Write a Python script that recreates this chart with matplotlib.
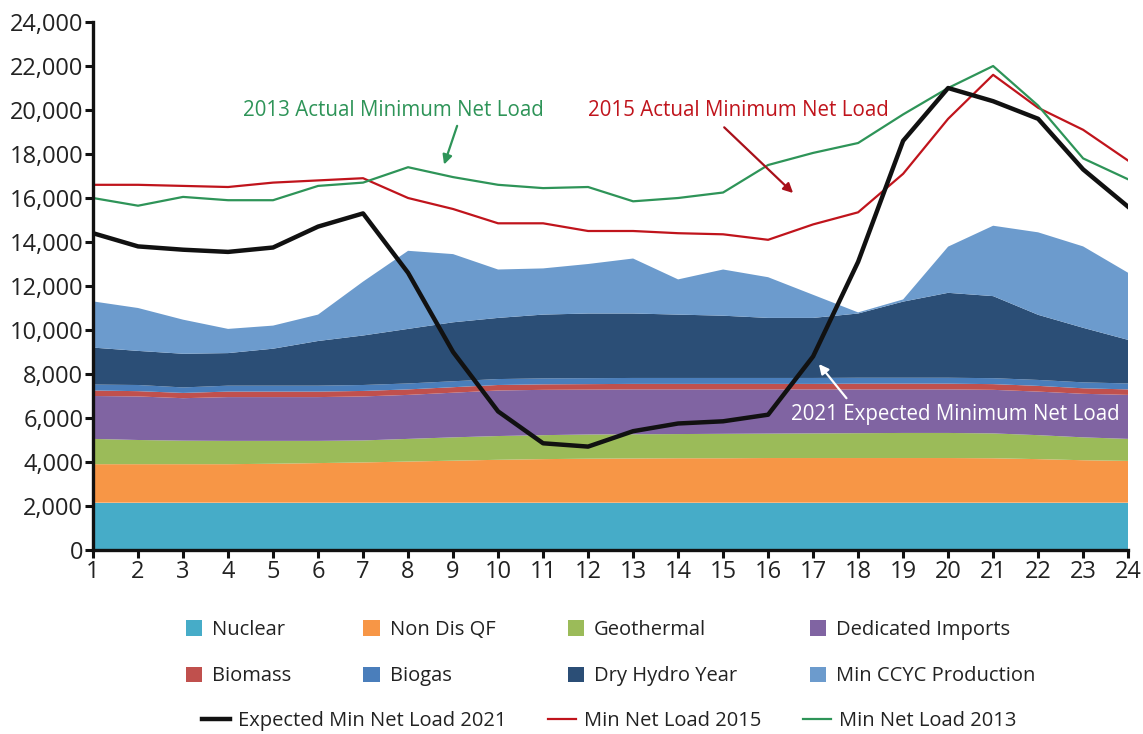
import numpy as np
import matplotlib
matplotlib.use("Agg")
import matplotlib.pyplot as plt
from matplotlib.patches import Patch
from matplotlib.lines import Line2D

plt.rcParams['font.family'] = ['Open Sans', 'DejaVu Sans']

# Hour of day
hours = list(range(1, 25))

# Stacked resources (MW, layer thickness)
nuclear = [2150] * 24
non_dis_qf = [1750, 1750, 1750, 1750, 1770, 1800, 1830, 1870, 1910, 1950, 1980, 2000,
              2010, 2020, 2020, 2030, 2030, 2030, 2030, 2030, 2020, 1980, 1930, 1900]
geothermal = [1150, 1100, 1070, 1060, 1040, 1010, 1000, 1030, 1060, 1080, 1090, 1100,
              1100, 1100, 1110, 1110, 1120, 1130, 1140, 1140, 1130, 1090, 1040, 1000]
dedicated_imports = [1950, 1980, 1930, 1990, 1990, 1990, 2000, 2000, 2030, 2070, 2060, 2040,
                     2040, 2030, 2020, 2010, 2000, 1990, 1980, 1980, 1980, 1980, 1980, 2000]
biomass = [250, 240, 240, 250, 250, 250, 250, 250, 250, 250, 250, 250,
           250, 250, 250, 250, 250, 260, 260, 260, 260, 260, 250, 250]
biogas = [270, 280, 250, 270, 270, 270, 270, 270, 270, 270, 270, 270,
          270, 270, 270, 270, 270, 270, 270, 270, 270, 270, 270, 270]
dry_hydro = [1680, 1550, 1530, 1480, 1680, 2030, 2250, 2480, 2680, 2780, 2900, 2940,
             2930, 2880, 2830, 2730, 2730, 2920, 3460, 3860, 3730, 2960, 2480, 1980]
min_ccyc = [2100, 1950, 1550, 1100, 1050, 1200, 2450, 3550, 3100, 2200, 2100, 2250,
            2500, 1600, 2100, 1850, 1050, 50, 100, 2100, 3200, 3750, 3700, 3050]

# Minimum net load lines (MW)
net_load_2021 = [14400, 13800, 13650, 13550, 13750, 14700, 15300, 12600, 9000, 6300, 4850, 4700,
                 5400, 5750, 5850, 6150, 8800, 13100, 18600, 21000, 20400, 19600, 17300, 15600]
net_load_2015 = [16600, 16600, 16550, 16500, 16700, 16800, 16900, 16000, 15500, 14850, 14850, 14500,
                 14500, 14400, 14350, 14100, 14800, 15350, 17100, 19600, 21600, 20100, 19100, 17700]
net_load_2013 = [16000, 15650, 16050, 15900, 15900, 16550, 16700, 17400, 16950, 16600, 16450, 16500,
                 15850, 16000, 16250, 17500, 18050, 18500, 19800, 21000, 22000, 20200, 17800, 16850]

layer_names = ['Nuclear', 'Non Dis QF', 'Geothermal', 'Dedicated Imports',
               'Biomass', 'Biogas', 'Dry Hydro Year', 'Min CCYC Production']
layer_colors = ['#46ACC8', '#F79646', '#9BBB59', '#8064A2',
                '#C0504D', '#4A7EBB', '#2B4E76', '#6C9BCD']

fig = plt.figure(figsize=(11.43, 7.34), dpi=100)
ax = fig.add_axes([0.0814, 0.2507, 0.9056, 0.7193])

ax.stackplot(hours, nuclear, non_dis_qf, geothermal, dedicated_imports,
             biomass, biogas, dry_hydro, min_ccyc,
             colors=layer_colors, linewidth=0)

ax.plot(hours, net_load_2015, color='#C0141C', lw=1.6)
ax.plot(hours, net_load_2013, color='#2E9458', lw=1.6)
ax.plot(hours, net_load_2021, color='#111111', lw=3.2)

ax.set_xlim(1, 24)
ax.set_ylim(0, 24000)
ax.set_xticks(hours)
ax.set_yticks(range(0, 24001, 2000))
ax.set_yticklabels([f'{v:,}' for v in range(0, 24001, 2000)])
for s in ['top', 'right']:
    ax.spines[s].set_visible(False)
for s in ['left', 'bottom']:
    ax.spines[s].set_linewidth(2.4)
    ax.spines[s].set_color('#111111')
ax.tick_params(axis='both', width=2.2, length=6, labelsize=17, colors='#111111',
               labelcolor='#222222')
ax.tick_params(axis='x', pad=1)
ax.tick_params(axis='y', pad=1)

# Annotations
ax.text(7.67, 20000, '2013 Actual Minimum Net Load', color='#2E9458', fontsize=14.8,
        ha='center', va='center')
ax.annotate('', xy=(8.78, 17400), xytext=(9.11, 19400),
            arrowprops=dict(arrowstyle='-|>', color='#2E9458', lw=1.6, mutation_scale=14))
ax.text(15.33, 20000, '2015 Actual Minimum Net Load', color='#C0141C', fontsize=14.8,
        ha='center', va='center')
ax.annotate('', xy=(16.6, 16140), xytext=(14.98, 19300),
            arrowprops=dict(arrowstyle='-|>', color='#A8101A', lw=1.6, mutation_scale=14))
ax.text(20.16, 6150, '2021 Expected Minimum Net Load', color='white', fontsize=14.8,
        ha='center', va='center')
ax.annotate('', xy=(17.09, 8550), xytext=(17.78, 6800),
            arrowprops=dict(arrowstyle='-|>', color='white', lw=1.6, mutation_scale=14))

# Legends (row-major order for 2 rows x 4 columns)
patch_handles = [Patch(facecolor=c, edgecolor='none', label=n)
                 for n, c in zip(layer_names, layer_colors)]
order = [0, 4, 1, 5, 2, 6, 3, 7]
fig.legend(handles=[patch_handles[i] for i in order], ncol=4, loc='center',
           bbox_to_anchor=(0.534, 0.11), frameon=False, fontsize=14.5,
           handlelength=0.8, handleheight=0.8, handletextpad=0.5,
           columnspacing=3.6, labelspacing=1.3, labelcolor='#222222')

line_handles = [Line2D([], [], color='#111111', lw=3.2, label='Expected Min Net Load 2021'),
                Line2D([], [], color='#C0141C', lw=1.6, label='Min Net Load 2015'),
                Line2D([], [], color='#2E9458', lw=1.6, label='Min Net Load 2013')]
fig.legend(handles=line_handles, ncol=3, loc='center',
           bbox_to_anchor=(0.533, 0.018), frameon=False, fontsize=14.5,
           handlelength=1.35, handletextpad=0.4, columnspacing=2.1,
           labelcolor='#222222')

fig.savefig('out.png', dpi=100)
